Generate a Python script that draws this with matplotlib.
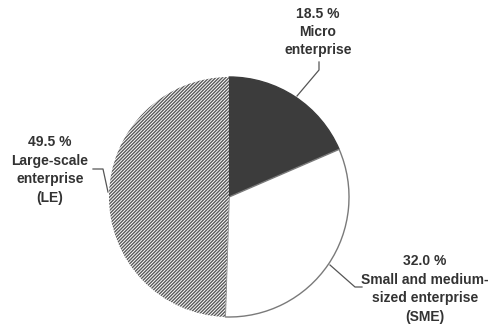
import matplotlib
matplotlib.use("Agg")
import matplotlib.pyplot as plt

# Enterprise share by size class
categories = ["Micro\nenterprise", "Small and medium-\nsized enterprise\n(SME)", "Large-scale\nenterprise\n(LE)"]
shares = [18.5, 32.0, 49.5]

W, H = 494, 329
plt.rcParams["font.family"] = ["Liberation Sans", "DejaVu Sans"]
plt.rcParams["hatch.linewidth"] = 1.0

fig = plt.figure(figsize=(W / 100, H / 100), dpi=100)
ax = fig.add_axes([0, 0, 1, 1])

def py(y):
    # convert a top-down pixel row to data y
    return H - y

cx, cy, r = 229, py(197), 120
wedges, _ = ax.pie(
    shares, startangle=90, counterclock=False, center=(cx, cy), radius=r,
    explode=[0.015, 0.015, 0.018], frame=True,
    wedgeprops=dict(linewidth=1.0),
)
ax.set_xlim(0, W)
ax.set_ylim(0, H)
ax.set_aspect("equal")
ax.axis("off")

wedges[0].set_facecolor("#3c3c3c")
wedges[0].set_edgecolor("#3c3c3c")
wedges[1].set_facecolor("white")
wedges[1].set_edgecolor("#7a7a7a")
wedges[2].set_facecolor("white")
wedges[2].set_edgecolor("#5a5a5a")
wedges[2].set_linewidth(0)
wedges[2].set_hatch("//////////")

txt = dict(ha="center", va="center", fontsize=10, fontweight="bold",
           color="#333333", linespacing=1.4)
labels = [f"{v:.1f} %\n{c}" for v, c in zip(shares, categories)]
ax.text(318, py(32), labels[0], **txt)
ax.text(425, py(289), labels[1], **txt)
ax.text(50, py(170), labels[2], **txt)

lead = dict(color="#555555", lw=0.9)
ax.plot([319, 319, 297], [py(62), py(70), py(96)], **lead)
ax.plot([330, 355, 362], [py(265), py(287), py(287)], **lead)
ax.plot([93, 103, 108], [py(169), py(169), py(192)], **lead)

fig.savefig("out.png", dpi=100, facecolor="white")
